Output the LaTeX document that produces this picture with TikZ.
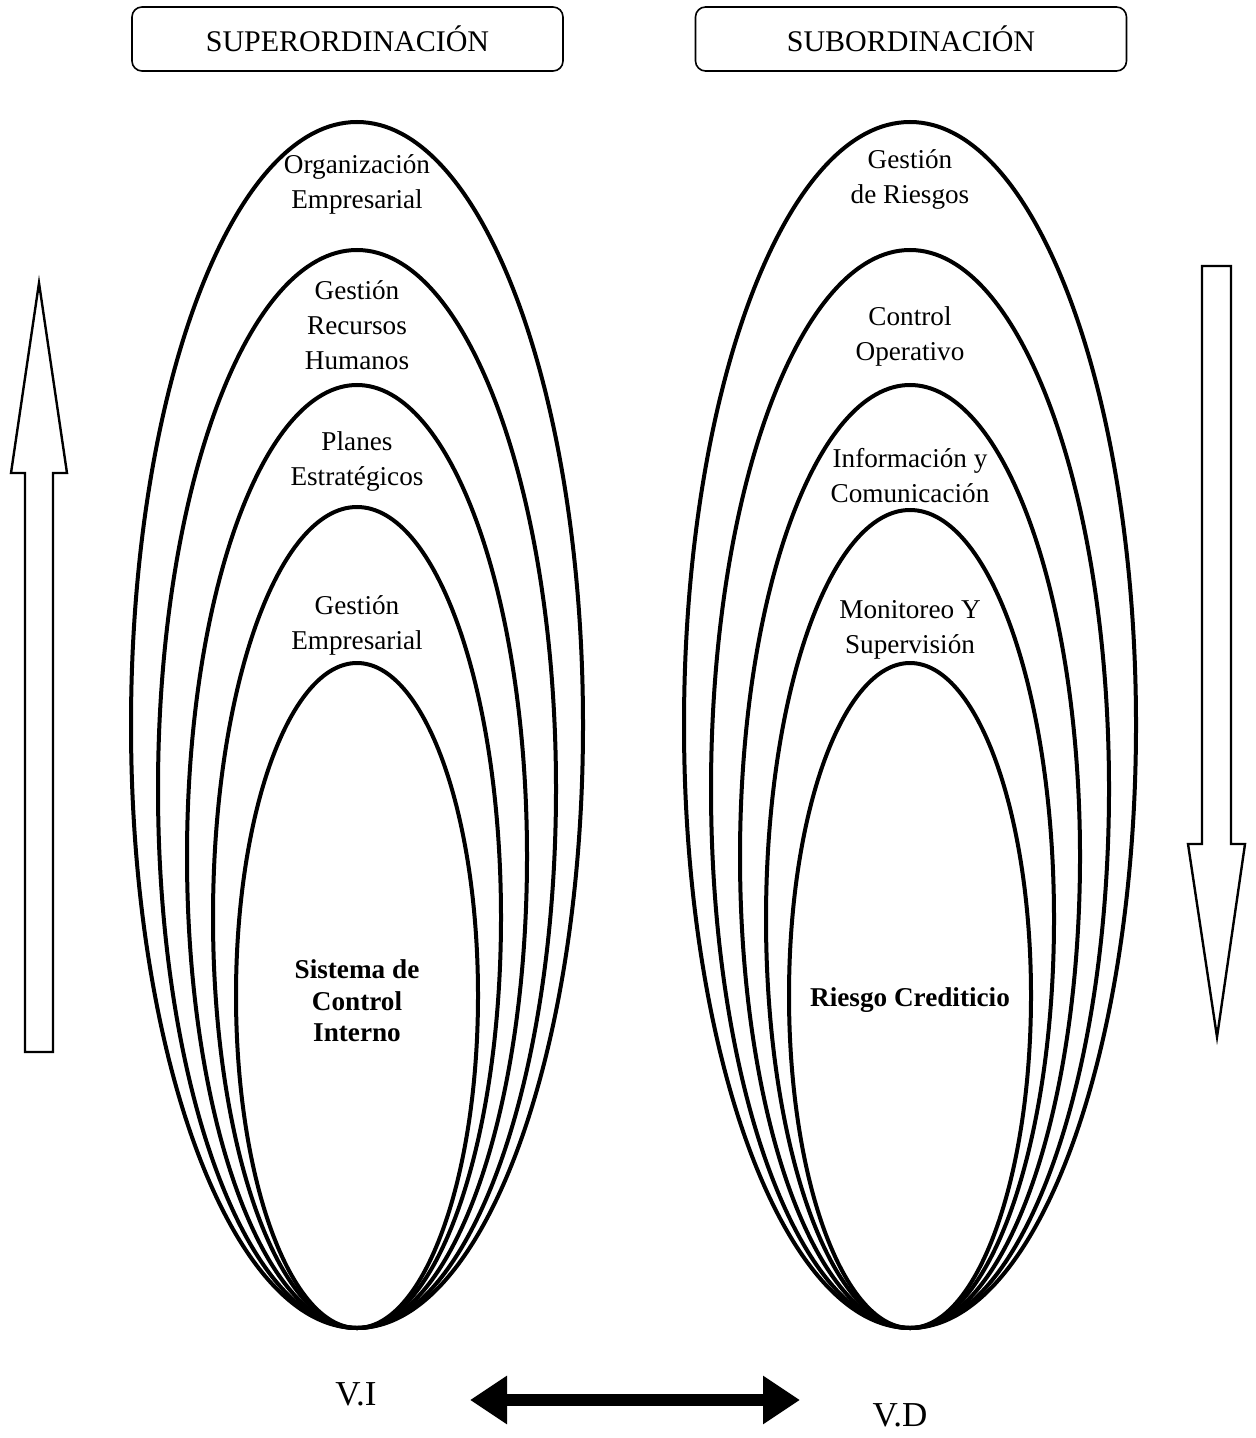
\documentclass[tikz,border=0pt]{standalone}
\usepackage{fontspec}
\setmainfont{Liberation Serif}
\usetikzlibrary{arrows.meta}

\begin{document}
\begin{tikzpicture}[x=0.5pt,y=-0.5pt,
  titlebox/.style={draw,line width=0.8pt,rounded corners=5pt,minimum width=215.5pt,minimum height=32pt,font=\fontsize{15}{18}\selectfont},
  ring/.style={line width=2pt},
  ringlabel/.style={align=center,font=\fontsize{13.6}{17.5}\selectfont},
  corelabel/.style={align=center,font=\fontsize{13.6}{15.8}\selectfont\bfseries},
  blockarrow/.style={line width=1.2pt,line join=miter},
  varlabel/.style={font=\fontsize{17.5}{20}\selectfont}]
\path (0,0) rectangle (1256,1438);
% titles
\node[titlebox] (super) at (347.5,39) {SUPERORDINACIÓN};
\node[titlebox] (sub) at (911,39) {SUBORDINACIÓN};
% left rings
\draw[ring] (357,725) ellipse [x radius=226,y radius=603];
\draw[ring] (357,789) ellipse [x radius=199,y radius=539];
\draw[ring] (357,856.5) ellipse [x radius=170,y radius=471.5];
\draw[ring] (357,917.5) ellipse [x radius=144,y radius=410.5];
\draw[ring] (357,995.5) ellipse [x radius=121,y radius=332.5];
\node[ringlabel] (orgemp) at (357,184) {Organización\\Empresarial};
\node[ringlabel] (rrhh) at (357,325) {Gestión\\Recursos\\Humanos};
\node[ringlabel] (planes) at (357,461) {Planes\\Estratégicos};
\node[ringlabel] (gestemp) at (357,625) {Gestión\\Empresarial};
\node[corelabel] (sci) at (357,1001) {Sistema de\\Control\\Interno};
% right rings
\draw[ring] (910,725) ellipse [x radius=226,y radius=603];
\draw[ring] (910,789) ellipse [x radius=199,y radius=539];
\draw[ring] (910,856.5) ellipse [x radius=170,y radius=471.5];
\draw[ring] (910,919) ellipse [x radius=144,y radius=409];
\draw[ring] (910,995.5) ellipse [x radius=121,y radius=332.5];
\node[ringlabel] (riesgos) at (910,179) {Gestión\\de Riesgos};
\node[ringlabel] (control) at (910,336) {Control\\Operativo};
\node[ringlabel] (info) at (910,476) {Información y\\Comunicación};
\node[ringlabel] (monitor) at (910,630) {Monitoreo Y\\Supervisión};
\node[corelabel] (credito) at (910,1000) {Riesgo Crediticio};
% vertical arrows
\draw[blockarrow] (25,1052) -- (25,473) -- (11,473) -- (39,283) -- (67,473) -- (53,473) -- (53,1052) -- cycle;
\draw[blockarrow] (1202,266) -- (1231,266) -- (1231,844) -- (1245,844) -- (1217,1037) -- (1188,844) -- (1202,844) -- cycle;
% variables
\node[varlabel] (vi) at (356,1394) {V.I};
\node[varlabel] (vd) at (900,1415) {V.D};
\coordinate (vil) at (470,1400);
\coordinate (vdr) at (800,1400);
\draw[line width=6pt,{Triangle[length=18.5pt,width=23pt]}-{Triangle[length=18.5pt,width=23pt]}] (vil) -- (vdr);
\end{tikzpicture}
\end{document}
